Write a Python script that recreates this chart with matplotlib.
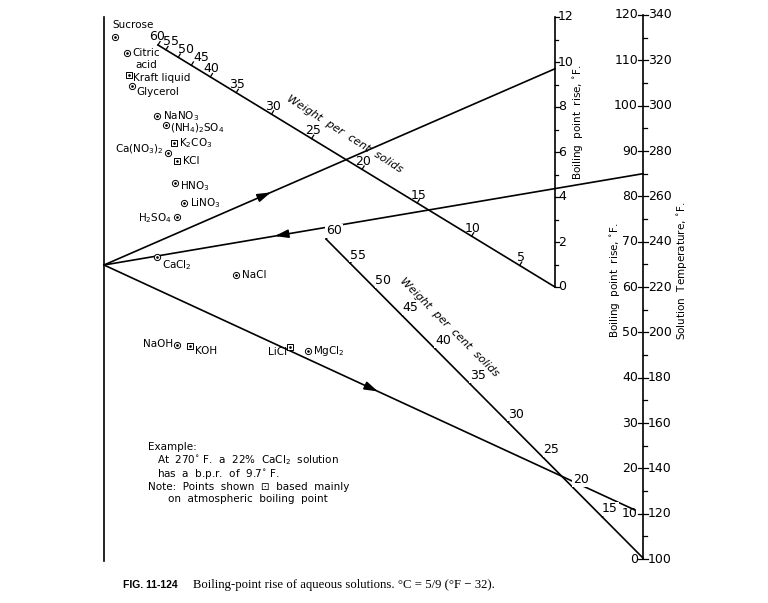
import numpy as np
import matplotlib
matplotlib.use('Agg')
from matplotlib import pyplot as plt

# --- scales of the nomograph ---
temp_ticks = list(range(100, 341, 20))          # solution temperature, F
temp_minor = list(range(110, 340, 20))
bpr_right_ticks = list(range(0, 121, 10))        # boiling point rise on the right scale, F
bpr_mid_ticks = list(range(0, 13, 2))            # boiling point rise on the middle scale, F
bpr_mid_minor = list(range(1, 12, 2))

upper_wt = [0, 5, 10, 15, 20, 25, 30, 35, 40, 45, 50, 55, 60]
upper_pos = [0.0, 0.089, 0.21, 0.347, 0.486, 0.613, 0.714, 0.803, 0.868, 0.916, 0.949, 0.98, 1.0]
lower_wt = [15, 20, 25, 30, 35, 40, 45, 50, 55, 60]
lower_pos = [0.129, 0.221, 0.315, 0.426, 0.546, 0.656, 0.760, 0.845, 0.924, 1.0]

# --- substances (grid points) ---
names = ['Sucrose', 'Citric', 'Kraft liquid', 'Glycerol', 'NaNO$_3$', '(NH$_4$)$_2$SO$_4$',
         'K$_2$CO$_3$', 'Ca(NO$_3$)$_2$', 'KCl', 'HNO$_3$', 'LiNO$_3$', 'H$_2$SO$_4$',
         'CaCl$_2$', 'NaCl', 'NaOH', 'KOH', 'LiCl', 'MgCl$_2$']
pt_x = [115, 127, 129, 132, 157, 166, 174, 168, 177, 175, 184, 177, 157, 236, 177, 190, 290, 308]
pt_y = [37, 53, 75, 86, 116, 125, 143, 153, 161, 183, 203, 217, 257, 275, 345, 346, 347, 351]
pt_kind = ['o', 'o', 's', 'o', 'o', 'o', 's', 'o', 's', 'o', 'o', 'o', 'o', 'o', 'o', 's', 's', 'o']

# --- worked example ---
pivot_y = 265          # turning point on the left reference line
ex_bpr = 9.7
ex_temp = 270
ex_temp_low = 120

# geometry of the drawing (pixel-like frame)
X_LEFT, Y_LEFT_TOP, Y_LEFT_BOT = 104, 17, 561
X_MID, Y_MID0, PX_BPR = 555, 287, 22.5
X_RIGHT, Y_T340, PX_T = 643, 15, 2.267
UP_60, UP_0 = np.array([158.0, 45.0]), np.array([X_MID, Y_MID0])
LO_60, LO_0 = np.array([326.0, 239.0]), np.array([X_RIGHT, 558.0])


def y_temp(t):
    return Y_T340 + (340 - t) * PX_T


def y_bpr(b):
    return Y_MID0 - b * PX_BPR


def along(p0, p1, f):
    return p0 + (p1 - p0) * f


fig = plt.figure(figsize=(7.68, 6.03), dpi=100)
ax = fig.add_axes([0, 0, 1, 1])
ax.set_xlim(0, 768)
ax.set_ylim(603, 0)
ax.axis('off')

lw = 1.2
fs_tick = 9
fs_lab = 7.5

# left reference line
ax.plot([X_LEFT, X_LEFT], [Y_LEFT_TOP, Y_LEFT_BOT], color='k', lw=lw)

# middle boiling point rise scale
ax.plot([X_MID, X_MID], [y_bpr(12), y_bpr(0)], color='k', lw=lw)
for b in bpr_mid_ticks:
    ax.plot([X_MID, X_MID + 4], [y_bpr(b)] * 2, color='k', lw=0.9)
    ax.text(X_MID + 3, y_bpr(b), str(b), fontsize=fs_tick, ha='left', va='center')
for b in bpr_mid_minor:
    ax.plot([X_MID, X_MID + 3], [y_bpr(b)] * 2, color='k', lw=0.9)
ax.text(578, 122, 'Boiling  point  rise, $^{\\circ}$F.', fontsize=fs_lab, rotation=90,
        ha='center', va='center')

# right temperature / bpr scale
ax.plot([X_RIGHT, X_RIGHT], [y_temp(340), y_temp(100)], color='k', lw=lw)
for t in temp_ticks:
    ax.plot([X_RIGHT - 5, X_RIGHT + 5], [y_temp(t)] * 2, color='k', lw=0.9)
    ax.text(X_RIGHT + 5, y_temp(t), str(t), fontsize=fs_tick, ha='left', va='center')
for t in temp_minor:
    ax.plot([X_RIGHT, X_RIGHT + 4], [y_temp(t)] * 2, color='k', lw=0.9)
for t, b in zip(temp_ticks, bpr_right_ticks):
    ax.text(X_RIGHT - 5, y_temp(t), str(b), fontsize=fs_tick, ha='right', va='center')
ax.text(615, 280, 'Boiling  point  rise, $^{\\circ}$F.', fontsize=fs_lab, rotation=90,
        ha='center', va='center')
ax.text(682, 271, 'Solution  Temperature, $^{\\circ}$F.', fontsize=fs_lab, rotation=90,
        ha='center', va='center')

# upper weight per cent solids scale
ax.plot([UP_60[0], UP_0[0]], [UP_60[1], UP_0[1]], color='k', lw=lw)
d = (UP_0 - UP_60) / np.linalg.norm(UP_0 - UP_60)
n = np.array([d[1], -d[0]])
crowded_dx = {60: -2, 55: 4, 50: 7, 45: 9}   # labels spread out where the scale bunches up
for w, f in zip(upper_wt, upper_pos):
    p = along(UP_0, UP_60, f)
    if 0 < w:
        ax.plot([p[0], p[0] + n[0] * 4], [p[1], p[1] + n[1] * 4], color='k', lw=0.9)
        ax.text(p[0] + 1 + crowded_dx.get(w, 0), p[1] - 8, str(w), fontsize=fs_tick,
                ha='center', va='center')
ax.text(345, 134, 'Weight  per  cent  solids', fontsize=8, rotation=-32.5,
        ha='center', va='center', style='italic')

# lower weight per cent solids scale
ax.plot([LO_60[0], LO_0[0]], [LO_60[1], LO_0[1]], color='k', lw=lw)
d = (LO_0 - LO_60) / np.linalg.norm(LO_0 - LO_60)
n = np.array([d[1], -d[0]])
for w, f in zip(lower_wt, lower_pos):
    p = along(LO_0, LO_60, f)
    ax.plot([p[0], p[0] + n[0] * 4], [p[1], p[1] + n[1] * 4], color='k', lw=0.9)
    ax.text(p[0] + 8, p[1] - 8, str(w), fontsize=fs_tick, ha='center', va='center', zorder=5,
            bbox=dict(boxstyle='square,pad=0.05', fc='white', ec='none'))
ax.text(449, 327, 'Weight  per  cent  solids', fontsize=8, rotation=-45,
        ha='center', va='center', style='italic')

# substance points
for kind, ms in (('o', 20), ('s', 16)):
    sel = [i for i, k in enumerate(pt_kind) if k == kind]
    ax.scatter([pt_x[i] for i in sel], [pt_y[i] for i in sel], s=ms, marker=kind,
               facecolors='white', edgecolors='k', linewidths=0.7, zorder=6)
ax.scatter(pt_x, pt_y, s=0.8, color='k', zorder=7)

label_place = {
    'Sucrose': (-3, -12, 'left'), 'Citric': (5, 0, 'left'), 'Kraft liquid': (4, 3, 'left'),
    'Glycerol': (4, 6, 'left'), 'NaNO$_3$': (6, 0, 'left'), '(NH$_4$)$_2$SO$_4$': (4, 3, 'left'),
    'K$_2$CO$_3$': (5, 0, 'left'), 'Ca(NO$_3$)$_2$': (-4, -4, 'right'), 'KCl': (6, 0, 'left'),
    'HNO$_3$': (5, 3, 'left'), 'LiNO$_3$': (6, 0, 'left'), 'H$_2$SO$_4$': (-5, 1, 'right'),
    'CaCl$_2$': (5, 8, 'left'), 'NaCl': (6, 0, 'left'), 'NaOH': (-4, -1, 'right'),
    'KOH': (5, 5, 'left'), 'LiCl': (-3, 5, 'right'), 'MgCl$_2$': (5, 0, 'left'),
}
for name, x, y in zip(names, pt_x, pt_y):
    dx, dy, ha = label_place[name]
    ax.text(x + dx, y + dy, name, fontsize=fs_lab, ha=ha, va='center')
ax.text(135, 65, 'acid', fontsize=fs_lab, ha='left', va='center')

# example lines
pivot = np.array([X_LEFT, pivot_y], dtype=float)
p_bpr = np.array([X_MID, y_bpr(ex_bpr)])
p_temp = np.array([X_RIGHT, y_temp(ex_temp)])
p_low = along(pivot, np.array([X_RIGHT, y_temp(ex_temp_low)]), 0.985)

for a, b, f in ((pivot, p_bpr, 0.37), (p_temp, pivot, 0.683), (pivot, p_low, 0.516)):
    ax.plot([a[0], b[0]], [a[1], b[1]], color='k', lw=lw, zorder=3)
    tip = along(a, b, f)
    tail = along(a, b, f - 0.02)
    ax.annotate('', xy=tip, xytext=tail,
                arrowprops=dict(arrowstyle='-|>,head_length=0.8,head_width=0.25', color='k',
                                lw=lw, shrinkA=0, shrinkB=0))

# notes
notes = [(148, 447, 'Example:'),
         (157, 460, 'At  270$^{\\circ}$ F.  a  22%  CaCl$_2$  solution'),
         (157, 474, 'has  a  b.p.r.  of  9.7$^{\\circ}$ F.'),
         (148, 487, 'Note:  Points  shown  \u22a1  based  mainly'),
         (168, 499, 'on  atmospheric  boiling  point')]
for x, y, s in notes:
    ax.text(x, y, s, fontsize=fs_lab, ha='left', va='center')

# caption
ax.text(123, 585, 'FIG. 11-124', fontsize=7.5, fontweight='bold', family='Liberation Sans',
        ha='left', va='center')
ax.text(193, 585, 'Boiling-point rise of aqueous solutions. \u00b0C = 5/9 (\u00b0F \u2212 32).',
        fontsize=9.2, family='Liberation Serif', ha='left', va='center')

fig.savefig('out.png', dpi=100)
